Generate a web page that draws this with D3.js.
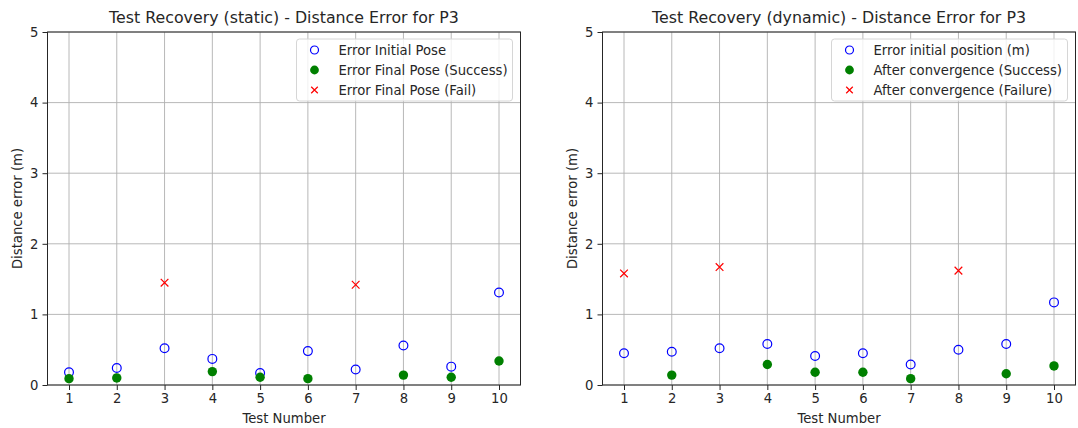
<!DOCTYPE html>
<html>
<head>
<meta charset="utf-8">
<script src="https://cdn.jsdelivr.net/npm/d3@7"></script>
<style>
  body { margin: 0; background: #fff; }
  text { font-family: "DejaVu Sans", sans-serif; fill: #262626; }
</style>
</head>
<body>
<script>
// test numbers shared by both panels
var tests = [1, 2, 3, 4, 5, 6, 7, 8, 9, 10];
var yTicks = [0, 1, 2, 3, 4, 5];

// static recovery
var staticInitial = [0.18, 0.24, 0.52, 0.37, 0.17, 0.48, 0.22, 0.56, 0.26, 1.31];
var staticSuccess = [0.09, 0.10, null, 0.19, 0.11, 0.09, null, 0.14, 0.11, 0.34];
var staticFail    = [null, null, 1.45, null, null, null, 1.42, null, null, null];

// dynamic recovery
var dynInitial = [0.45, 0.47, 0.52, 0.58, 0.41, 0.45, 0.29, 0.50, 0.58, 1.17];
var dynSuccess = [null, 0.14, null, 0.29, 0.18, 0.18, 0.09, null, 0.16, 0.27];
var dynFail    = [1.58, null, 1.67, null, null, null, null, 1.62, null, null];

var panels = [
  { left: 47.5, title: "Test Recovery (static) - Distance Error for P3",
    initial: staticInitial, success: staticSuccess, fail: staticFail,
    labels: ["Error Initial Pose", "Error Final Pose (Success)", "Error Final Pose (Fail)"],
    legendW: 216 },
  { left: 602.5, title: "Test Recovery (dynamic) - Distance Error for P3",
    initial: dynInitial, success: dynSuccess, fail: dynFail,
    labels: ["Error initial position (m)", "After convergence (Success)", "After convergence (Failure)"],
    legendW: 236 }
];

var plotW = 473, plotTop = 32, plotH = 353;
var fs = "13.2px";

var svg = d3.select("body").append("svg")
    .attr("width", 1078)
    .attr("height", 428);

panels.forEach(function(p) {
  var x = d3.scaleLinear().domain([0.55, 10.45]).range([0, plotW]);
  var y = d3.scaleLinear().domain([0, 5]).range([plotH, 0]);

  var g = svg.append("g")
      .attr("transform", "translate(" + p.left + "," + plotTop + ")");

  // grid
  g.append("g").selectAll("line").data(tests).enter().append("line")
      .attr("x1", function(d) { return x(d); }).attr("x2", function(d) { return x(d); })
      .attr("y1", 0).attr("y2", plotH)
      .style("stroke", "#b0b0b0").style("stroke-width", 0.9);
  g.append("g").selectAll("line").data(yTicks).enter().append("line")
      .attr("y1", function(d) { return y(d); }).attr("y2", function(d) { return y(d); })
      .attr("x1", 0).attr("x2", plotW)
      .style("stroke", "#b0b0b0").style("stroke-width", 0.9);

  // axes
  var xa = g.append("g")
      .attr("transform", "translate(0," + plotH + ")")
      .call(d3.axisBottom(x).tickValues(tests).tickFormat(d3.format("d")).tickSize(5).tickPadding(4));
  var ya = g.append("g")
      .call(d3.axisLeft(y).tickValues(yTicks).tickFormat(d3.format("d")).tickSize(5).tickPadding(4));
  [xa, ya].forEach(function(a) {
    a.select(".domain").remove();
    a.selectAll("text").style("font-size", fs).style("fill", "#262626")
        .style("font-family", "DejaVu Sans, sans-serif");
    a.selectAll("line").style("stroke", "#262626");
  });

  g.append("rect")
      .attr("width", plotW).attr("height", plotH)
      .style("fill", "none").style("stroke", "#262626").style("stroke-width", 1);

  // points
  var initPts = tests.map(function(t, i) { return [t, p.initial[i]]; }).filter(function(d) { return d[1] != null; });
  var succPts = tests.map(function(t, i) { return [t, p.success[i]]; }).filter(function(d) { return d[1] != null; });
  var failPts = tests.map(function(t, i) { return [t, p.fail[i]]; }).filter(function(d) { return d[1] != null; });

  g.selectAll(".init").data(initPts).enter().append("circle")
      .attr("class", "init")
      .attr("cx", function(d) { return x(d[0]); })
      .attr("cy", function(d) { return y(d[1]); })
      .attr("r", 4.4)
      .style("fill", "none").style("stroke", "blue").style("stroke-width", 1.2);

  g.selectAll(".succ").data(succPts).enter().append("circle")
      .attr("class", "succ")
      .attr("cx", function(d) { return x(d[0]); })
      .attr("cy", function(d) { return y(d[1]); })
      .attr("r", 4.7)
      .style("fill", "green");

  var cross = d3.symbol().type(d3.symbolX).size(40);
  g.selectAll(".fail").data(failPts).enter().append("path")
      .attr("class", "fail")
      .attr("transform", function(d) { return "translate(" + x(d[0]) + "," + y(d[1]) + ")"; })
      .attr("d", cross)
      .style("fill", "none").style("stroke", "red").style("stroke-width", 1.2);

  // title and labels
  g.append("text")
      .attr("x", plotW / 2).attr("y", -9)
      .attr("text-anchor", "middle")
      .style("font-size", "15.8px")
      .text(p.title);
  g.append("text")
      .attr("x", plotW / 2).attr("y", plotH + 38)
      .attr("text-anchor", "middle")
      .style("font-size", fs)
      .text("Test Number");
  g.append("text")
      .attr("transform", "translate(-26," + (plotH / 2) + ") rotate(-90)")
      .attr("text-anchor", "middle")
      .style("font-size", fs)
      .text("Distance error (m)");

  // legend
  var lg = g.append("g")
      .attr("transform", "translate(" + (plotW - 8 - p.legendW) + ",7)");
  lg.append("rect")
      .attr("width", p.legendW).attr("height", 62).attr("rx", 3)
      .style("fill", "rgba(255,255,255,0.8)").style("stroke", "#d6d6d6");
  p.labels.forEach(function(lab, i) {
    var cy = 11 + i * 20;
    if (i === 0) {
      lg.append("circle").attr("cx", 18).attr("cy", cy).attr("r", 4)
          .style("fill", "none").style("stroke", "blue").style("stroke-width", 1.2);
    } else if (i === 1) {
      lg.append("circle").attr("cx", 18).attr("cy", cy).attr("r", 4.4).style("fill", "green");
    } else {
      lg.append("path").attr("transform", "translate(18," + cy + ")")
          .attr("d", d3.symbol().type(d3.symbolX).size(30))
          .style("fill", "none").style("stroke", "red").style("stroke-width", 1.2);
    }
    lg.append("text").attr("x", 42).attr("y", cy + 4.8)
        .style("font-size", fs).text(lab);
  });
});
</script>
</body>
</html>
